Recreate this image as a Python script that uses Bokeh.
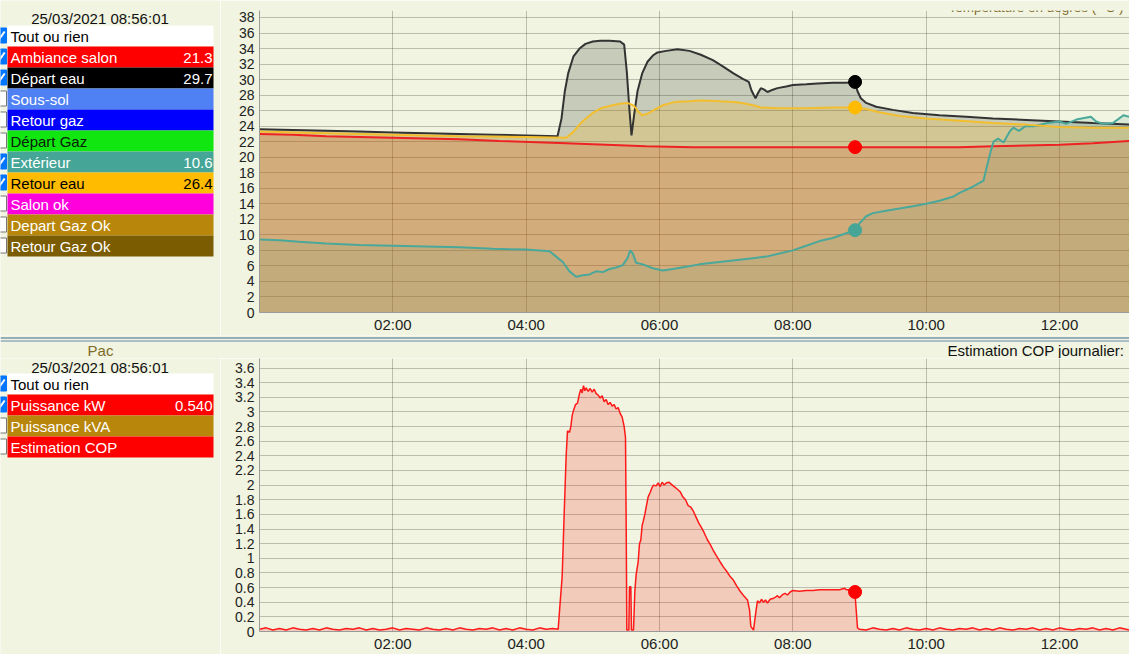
from bokeh.plotting import figure
from bokeh.models import ColumnDataSource, Range1d, FixedTicker, Label
from bokeh.layouts import column, row
from bokeh.embed import file_html
from bokeh.resources import INLINE
from bokeh.core.properties import value

BG = "#f0f4e0"
FONT = "Liberation Sans"
OLIVE = "#7f6a28"

timestamp = "25/03/2021 08:56:01"
now_h = 8 + 56 / 60 + 1 / 3600

# ---------------- legend data ----------------
temp_labels = ["Tout ou rien", "Ambiance salon", "Départ eau", "Sous-sol", "Retour gaz",
               "Départ Gaz", "Extérieur", "Retour eau", "Salon ok", "Depart Gaz Ok", "Retour Gaz Ok"]
temp_colors = ["#ffffff", "#ff0000", "#000000", "#4f81f5", "#0000ff",
               "#11e611", "#45a597", "#ffbb00", "#ff00dc", "#b8860b", "#7b5c00"]
temp_text_colors = ["#000000", "#ffffff", "#ffffff", "#ffffff", "#ffffff",
                    "#0a200a", "#ffffff", "#000000", "#ffffff", "#ffffff", "#ffffff"]
temp_values = ["", "21.3", "29.7", "", "", "", "10.6", "26.4", "", "", ""]
temp_checked = [True, True, True, False, False, False, True, True, False, False, False]

pac_labels = ["Tout ou rien", "Puissance kW", "Puissance kVA", "Estimation COP"]
pac_colors = ["#ffffff", "#ff0000", "#b8860b", "#ff0000"]
pac_text_colors = ["#000000", "#ffffff", "#ffffff", "#ffffff"]
pac_values = ["", "0.540", "", ""]
pac_checked = [True, True, False, False]

# ---------------- axis ticks ----------------
hour_ticks = [2, 4, 6, 8, 10, 12]
hour_labels = ["02:00", "04:00", "06:00", "08:00", "10:00", "12:00"]
temp_ticks = [0, 2, 4, 6, 8, 10, 12, 14, 16, 18, 20, 22, 24, 26, 28, 30, 32, 34, 36, 38]
kw_ticks = [0, 0.2, 0.4, 0.6, 0.8, 1, 1.2, 1.4, 1.6, 1.8, 2, 2.2, 2.4, 2.6, 2.8, 3, 3.2, 3.4, 3.6]
kw_tick_labels = ["0", "0.2", "0.4", "0.6", "0.8", "1", "1.2", "1.4", "1.6", "1.8", "2",
                  "2.2", "2.4", "2.6", "2.8", "3", "3.2", "3.4", "3.6"]

# ---------------- series (hour, value) ----------------
ambiance_salon = [(0, 23.0), (0.5, 22.9), (1, 22.7), (2, 22.5), (3, 22.3), (3.6, 22.1), (4.6, 21.8),
                  (5.2, 21.6), (5.8, 21.4), (6.5, 21.3), (7.5, 21.3), (8.5, 21.3), (8.93, 21.3),
                  (9.5, 21.3), (10.0, 21.3), (10.5, 21.3), (11.0, 21.4), (11.5, 21.5), (12.0, 21.6),
                  (12.5, 21.8), (13.05, 22.1)]

depart_eau = [(0, 23.6), (0.5, 23.5), (1, 23.4), (1.5, 23.3), (2, 23.2), (2.5, 23.1), (3, 23.0),
              (3.5, 22.9), (4, 22.8), (4.47, 22.7), (4.53, 25.0), (4.58, 28.5), (4.63, 30.8),
              (4.71, 33.0), (4.8, 34.0), (4.89, 34.6), (5.0, 34.9), (5.11, 35.0), (5.25, 35.0),
              (5.41, 34.9), (5.47, 34.5), (5.51, 31.0), (5.55, 26.0), (5.58, 22.8), (5.62, 25.5),
              (5.67, 28.5), (5.74, 30.8), (5.82, 32.3), (5.9, 33.1), (5.97, 33.5), (6.1, 33.7),
              (6.27, 33.9), (6.45, 33.7), (6.62, 33.2), (6.8, 32.5), (6.95, 31.7), (7.11, 30.8),
              (7.25, 30.1), (7.34, 29.7), (7.38, 28.6), (7.44, 27.6), (7.48, 28.3), (7.52, 28.9),
              (7.57, 28.7), (7.62, 28.4), (7.7, 28.7), (7.77, 28.9), (7.9, 29.1), (8.0, 29.3),
              (8.2, 29.4), (8.37, 29.5), (8.6, 29.6), (8.8, 29.6), (8.93, 29.7), (8.97, 28.5),
              (9.02, 27.6), (9.1, 27.0), (9.25, 26.5), (9.5, 26.1), (9.8, 25.7), (10.2, 25.4),
              (10.6, 25.2), (11.0, 25.0), (11.5, 24.8), (12.0, 24.6), (12.5, 24.4), (13.05, 24.2)]

exterieur = [(0, 9.4), (0.3, 9.3), (0.6, 9.1), (1.0, 8.9), (1.5, 8.7), (2.0, 8.6), (2.5, 8.5),
             (3.0, 8.4), (3.5, 8.2), (4.0, 8.1), (4.35, 7.9), (4.45, 7.2), (4.55, 6.5), (4.65, 5.3),
             (4.75, 4.6), (4.85, 4.8), (4.95, 4.9), (5.05, 5.3), (5.15, 5.2), (5.25, 5.6), (5.35, 5.8),
             (5.45, 6.1), (5.52, 7.0), (5.56, 8.0), (5.6, 7.6), (5.65, 6.4), (5.75, 6.2), (5.9, 5.7),
             (6.05, 5.4), (6.2, 5.6), (6.4, 5.9), (6.6, 6.2), (6.8, 6.4), (7.0, 6.6), (7.2, 6.8),
             (7.4, 7.0), (7.6, 7.2), (7.8, 7.6), (8.0, 8.0), (8.2, 8.6), (8.4, 9.2), (8.6, 9.6),
             (8.8, 10.2), (8.93, 10.6), (9.0, 11.5), (9.1, 12.4), (9.2, 12.8), (9.4, 13.1),
             (9.6, 13.4), (9.8, 13.7), (10.0, 14.0), (10.2, 14.4), (10.4, 14.9), (10.5, 15.4),
             (10.7, 16.2), (10.86, 17.0), (10.96, 20.5), (11.01, 22.0), (11.08, 22.4), (11.16, 21.9),
             (11.26, 23.4), (11.31, 23.8), (11.39, 23.4), (11.49, 24.0), (11.61, 24.0), (11.82, 24.4),
             (12.0, 24.6), (12.1, 24.3), (12.27, 24.9), (12.47, 25.2), (12.55, 24.6), (12.66, 24.3),
             (12.8, 24.4), (12.96, 25.4), (13.05, 25.2)]

retour_eau = [(0, 23.3), (1, 23.1), (2, 22.9), (3, 22.7), (4, 22.6), (4.6, 22.5), (4.7, 23.2),
              (4.8, 24.2), (4.87, 24.8), (5.0, 25.7), (5.12, 26.3), (5.25, 26.6), (5.4, 26.9),
              (5.52, 27.0), (5.57, 26.8), (5.62, 26.6), (5.68, 25.9), (5.74, 25.4), (5.82, 25.6),
              (5.92, 26.1), (6.05, 26.7), (6.22, 27.1), (6.45, 27.2), (6.62, 27.3), (6.9, 27.2),
              (7.12, 27.1), (7.3, 26.9), (7.45, 26.6), (7.52, 26.4), (7.8, 26.3), (8.2, 26.3),
              (8.6, 26.4), (8.93, 26.4), (9.1, 26.2), (9.3, 25.8), (9.6, 25.3), (10.0, 25.0),
              (10.5, 24.7), (11.0, 24.4), (11.5, 24.2), (12.0, 23.9), (12.5, 23.8), (13.05, 23.8)]

temp_current = [21.3, 29.7, 10.6, 26.4]

puissance_kw = [
    (0.0, 0.03), (0.1, 0.05), (0.2, 0.02), (0.3, 0.04), (0.4, 0.02), (0.5, 0.05), (0.6, 0.03),
    (0.7, 0.02), (0.8, 0.04), (0.9, 0.02), (1.0, 0.05), (1.1, 0.03), (1.2, 0.02), (1.3, 0.04),
    (1.4, 0.03), (1.5, 0.05), (1.6, 0.02), (1.7, 0.04), (1.8, 0.02), (1.9, 0.03), (2.0, 0.05),
    (2.1, 0.02), (2.2, 0.04), (2.3, 0.03), (2.4, 0.02), (2.5, 0.05), (2.6, 0.03), (2.7, 0.02),
    (2.8, 0.04), (2.9, 0.02), (3.0, 0.05), (3.1, 0.03), (3.2, 0.02), (3.3, 0.04), (3.4, 0.03),
    (3.5, 0.05), (3.6, 0.02), (3.7, 0.04), (3.8, 0.02), (3.9, 0.05), (4.0, 0.03), (4.1, 0.02),
    (4.2, 0.05), (4.3, 0.03), (4.4, 0.04), (4.48, 0.03),
    (4.51, 0.40), (4.54, 0.75), (4.57, 1.60), (4.60, 2.40), (4.62, 2.74), (4.65, 2.72), (4.67, 2.80),
    (4.69, 2.95), (4.71, 3.02), (4.74, 3.10), (4.77, 3.12), (4.80, 3.25), (4.82, 3.31), (4.84, 3.26),
    (4.86, 3.36), (4.88, 3.29), (4.90, 3.33), (4.93, 3.28), (4.96, 3.32), (4.99, 3.27), (5.02, 3.31),
    (5.05, 3.25), (5.08, 3.23), (5.11, 3.19), (5.14, 3.22), (5.17, 3.14), (5.20, 3.17), (5.23, 3.10),
    (5.26, 3.13), (5.29, 3.08), (5.32, 3.10), (5.35, 3.04), (5.38, 3.06), (5.41, 2.98), (5.44, 2.93),
    (5.47, 2.80), (5.49, 2.65), (5.50, 1.50), (5.51, 0.02),
    (5.54, 0.02), (5.55, 0.61), (5.57, 0.61), (5.58, 0.02), (5.61, 0.02),
    (5.63, 0.55), (5.65, 0.78), (5.68, 0.95), (5.70, 1.20), (5.72, 1.25), (5.74, 1.45), (5.76, 1.52),
    (5.78, 1.60), (5.80, 1.70), (5.83, 1.84), (5.86, 1.90), (5.89, 1.97), (5.91, 2.00), (5.95, 1.99),
    (5.98, 2.03), (6.01, 1.98), (6.04, 2.04), (6.07, 2.00), (6.10, 2.03), (6.14, 2.04), (6.18, 2.01),
    (6.22, 1.98), (6.26, 1.95), (6.31, 1.91), (6.35, 1.84), (6.39, 1.80), (6.43, 1.72), (6.47, 1.70),
    (6.51, 1.64), (6.55, 1.56), (6.59, 1.48), (6.63, 1.42), (6.67, 1.35), (6.72, 1.25), (6.76, 1.19),
    (6.80, 1.12), (6.85, 1.04), (6.91, 0.95), (6.96, 0.88), (7.01, 0.82), (7.06, 0.75), (7.11, 0.70),
    (7.16, 0.62), (7.21, 0.55), (7.27, 0.48), (7.32, 0.43), (7.35, 0.30), (7.37, 0.07), (7.41, 0.02),
    (7.45, 0.30), (7.47, 0.42), (7.50, 0.39), (7.53, 0.44), (7.56, 0.40), (7.59, 0.43), (7.62, 0.39),
    (7.66, 0.44), (7.70, 0.45), (7.74, 0.47), (7.77, 0.49), (7.80, 0.46), (7.84, 0.50), (7.88, 0.52),
    (7.92, 0.50), (7.96, 0.54), (8.00, 0.56), (8.10, 0.55), (8.20, 0.56), (8.30, 0.56), (8.40, 0.57),
    (8.50, 0.57), (8.60, 0.57), (8.70, 0.57), (8.78, 0.59), (8.80, 0.57), (8.90, 0.57), (8.93, 0.55),
    (8.97, 0.05), (9.00, 0.03), (9.1, 0.02), (9.2, 0.05), (9.3, 0.03), (9.4, 0.02), (9.5, 0.04),
    (9.6, 0.02), (9.7, 0.05), (9.8, 0.03), (9.9, 0.02), (10.0, 0.04), (10.1, 0.02), (10.2, 0.05),
    (10.3, 0.03), (10.4, 0.02), (10.5, 0.04), (10.6, 0.03), (10.7, 0.05), (10.8, 0.02), (10.9, 0.04),
    (11.0, 0.02), (11.1, 0.05), (11.2, 0.03), (11.3, 0.02), (11.4, 0.04), (11.5, 0.03), (11.6, 0.05),
    (11.7, 0.02), (11.8, 0.04), (11.9, 0.02), (12.0, 0.05), (12.1, 0.03), (12.2, 0.02), (12.3, 0.04),
    (12.4, 0.03), (12.5, 0.05), (12.6, 0.02), (12.7, 0.04), (12.8, 0.02), (12.9, 0.05), (13.0, 0.03),
    (13.05, 0.02)]

kw_current = 0.54

# ---------------- layout constants (page pixels) ----------------
TOTAL_W = 1129
LEG_W = 220
CHART_W = TOTAL_W - LEG_W
ROW_H = 21
H_TOP = 335
H_SEP = 23
H_BOT = 296
H_SEP2 = 5
X_END = 13.05
TOP_YMAX = 38.9
BOT_YMAX = 3.73


def no_align(f):
    try:
        f.frame_align = False
    except Exception:
        pass
    return f


def src_of(pairs):
    return ColumnDataSource(dict(x=[p[0] for p in pairs], y=[p[1] for p in pairs]))


def style_axes(p, yticks, y_overrides=None):
    xa = p.xaxis[0]
    ya = p.yaxis[0]
    xa.ticker = FixedTicker(ticks=hour_ticks)
    xa.major_label_overrides = dict(zip(hour_ticks, hour_labels))
    xa.major_label_text_font_size = "15px"
    xa.major_label_standoff = 3
    ya.ticker = FixedTicker(ticks=yticks)
    if y_overrides:
        ya.major_label_overrides = y_overrides
    ya.major_label_text_font_size = "14px"
    ya.major_label_standoff = 5
    for ax in (xa, ya):
        ax.major_tick_out = 0
        ax.major_tick_in = 0
        ax.minor_tick_out = 0
        ax.minor_tick_in = 0
        ax.axis_line_color = "#9a9a9a"
        ax.major_label_text_font = FONT
        ax.major_label_text_color = "#222222"
    for g in (p.xgrid[0], p.ygrid[0]):
        g.grid_line_color = "#000000"
        g.grid_line_alpha = 0.22


def chart(height, ymax, top_border, bottom_border):
    f = figure(width=CHART_W, height=height, x_range=Range1d(0, X_END), y_range=Range1d(0, ymax),
               output_backend="svg", toolbar_location=None,
               min_border_left=39, min_border_right=0, min_border_top=top_border,
               min_border_bottom=bottom_border, background_fill_color=BG,
               border_fill_color=BG, outline_line_color=None)
    return no_align(f)


def plain_fig(w, h):
    f = figure(width=w, height=h, x_range=Range1d(0, w), y_range=Range1d(h, 0),
               output_backend="svg", toolbar_location=None, min_border=0,
               min_border_left=0, min_border_right=0, min_border_top=0, min_border_bottom=0,
               x_axis_location=None, y_axis_location=None,
               background_fill_color=BG, border_fill_color=BG, outline_line_color=None)
    f.grid.visible = False
    return no_align(f)


def hline(f, y, thickness, color):
    f.quad(left=0, right=TOTAL_W, top=y - thickness / 2, bottom=y + thickness / 2,
           fill_color=color, line_color=None)


def legend_fig(height, date_y, row0, labels, colors, tcolors, values, checked):
    f = plain_fig(LEG_W, height)
    tops = [row0 + ROW_H * i for i in range(len(labels))]
    s = ColumnDataSource(dict(top=tops, bottom=[t + ROW_H for t in tops],
                              yc=[t + ROW_H / 2 + 0.5 for t in tops], color=colors,
                              label=labels, tcol=tcolors, val=values,
                              cb_top=[t + 2.5 for t in tops], cb_bot=[t + 17.5 for t in tops],
                              cb_fill=["#0075ff" if c else "#ffffff" for c in checked],
                              cb_line=["#0075ff" if c else "#767676" for c in checked]))
    f.quad(left=7, right=213, top="top", bottom="bottom", fill_color="color", line_color=None, source=s)
    f.quad(left=-6, right=6, top="cb_top", bottom="cb_bot", fill_color="cb_fill",
           line_color="cb_line", line_width=1, source=s)
    ck = [t for t, c in zip(tops, checked) if c]
    f.segment(x0=-1.5, y0=[t + 14 for t in ck], x1=4.2, y1=[t + 6 for t in ck],
              line_color="#ffffff", line_width=2)
    f.text(x=10, y="yc", text="label", text_color="tcol", text_font=value(FONT),
           text_font_size="15px", text_baseline="middle", source=s)
    f.text(x=212, y="yc", text="val", text_color="tcol", text_font=value(FONT),
           text_font_size="15px", text_baseline="middle", text_align="right", source=s)
    f.text(x=[99.5], y=[date_y], text=[timestamp], text_color="#111111", text_font=value(FONT),
           text_font_size="15px", text_baseline="middle", text_align="center")
    return f


# ---------------- top chart ----------------
pt = chart(H_TOP, TOP_YMAX, 10, 22)
style_axes(pt, temp_ticks)

series = [
    (ambiance_salon, "#ee2222", "#ff0000", 0.16),
    (depart_eau, "#333333", "#000000", 0.17),
    (exterieur, "#4aa89a", "#45a597", 0.14),
    (retour_eau, "#f2be2e", "#ffbb00", 0.20),
]
srcs = [src_of(s[0]) for s in series]
for s, (_, lc, fc, fa) in zip(srcs, series):
    pt.varea(x="x", y1=0, y2="y", source=s, fill_color=fc, fill_alpha=fa)
for s, (_, lc, fc, fa) in zip(srcs, series):
    pt.line(x="x", y="y", source=s, line_color=lc, line_width=2)
pt.scatter(x=[now_h] * len(temp_current), y=temp_current,
           color=["#ff0000", "#000000", "#45a597", "#ffbb00"], size=13)

top_px_per_unit = (H_TOP - 10 - 22) / TOP_YMAX
top_px_per_hour = (CHART_W - 39) / X_END
pt.add_layout(Label(x=(948 - 259) / top_px_per_hour, y=TOP_YMAX + 3 / top_px_per_unit,
                    text="Température en degrés ( °C )", text_baseline="middle",
                    text_font=FONT, text_font_size="13.5px", text_color=OLIVE))

leg_top = legend_fig(H_TOP, 17.5, 25, temp_labels, temp_colors, temp_text_colors,
                     temp_values, temp_checked)

# ---------------- separator + headers of the second panel ----------------
sep = plain_fig(TOTAL_W, H_SEP)
hline(sep, 2.5, 1.2, "#3d6890")
hline(sep, 5.5, 1.2, "#6288ad")
sep.text(x=[100], y=[14.5], text=["Pac"], text_color=OLIVE, text_font=value(FONT),
         text_font_size="15px", text_baseline="middle", text_align="center")
sep.text(x=[947], y=[14.5], text=["Estimation COP journalier:"], text_color="#111111",
         text_font=value(FONT), text_font_size="15px", text_baseline="middle", text_align="left")

# ---------------- bottom chart ----------------
pb = chart(H_BOT, BOT_YMAX, 0, 22)
style_axes(pb, kw_ticks, dict(zip(kw_ticks, kw_tick_labels)))
ks = src_of(puissance_kw)
pb.varea(x="x", y1=0, y2="y", source=ks, fill_color="#ff0000", fill_alpha=0.17)
pb.line(x="x", y="y", source=ks, line_color="#ff1a1a", line_width=1.5)
pb.scatter(x=[now_h], y=[kw_current], color="#ff0000", size=13)

leg_bot = legend_fig(H_BOT, 8.5, 15, pac_labels, pac_colors, pac_text_colors,
                     pac_values, pac_checked)

sep2 = plain_fig(TOTAL_W, H_SEP2)
hline(sep2, 2.0, 1.5, "#4a6f8f")

layout = column(row(leg_top, pt), sep, row(leg_bot, pb), sep2)

open("out.html", "w").write(file_html(layout, INLINE))
